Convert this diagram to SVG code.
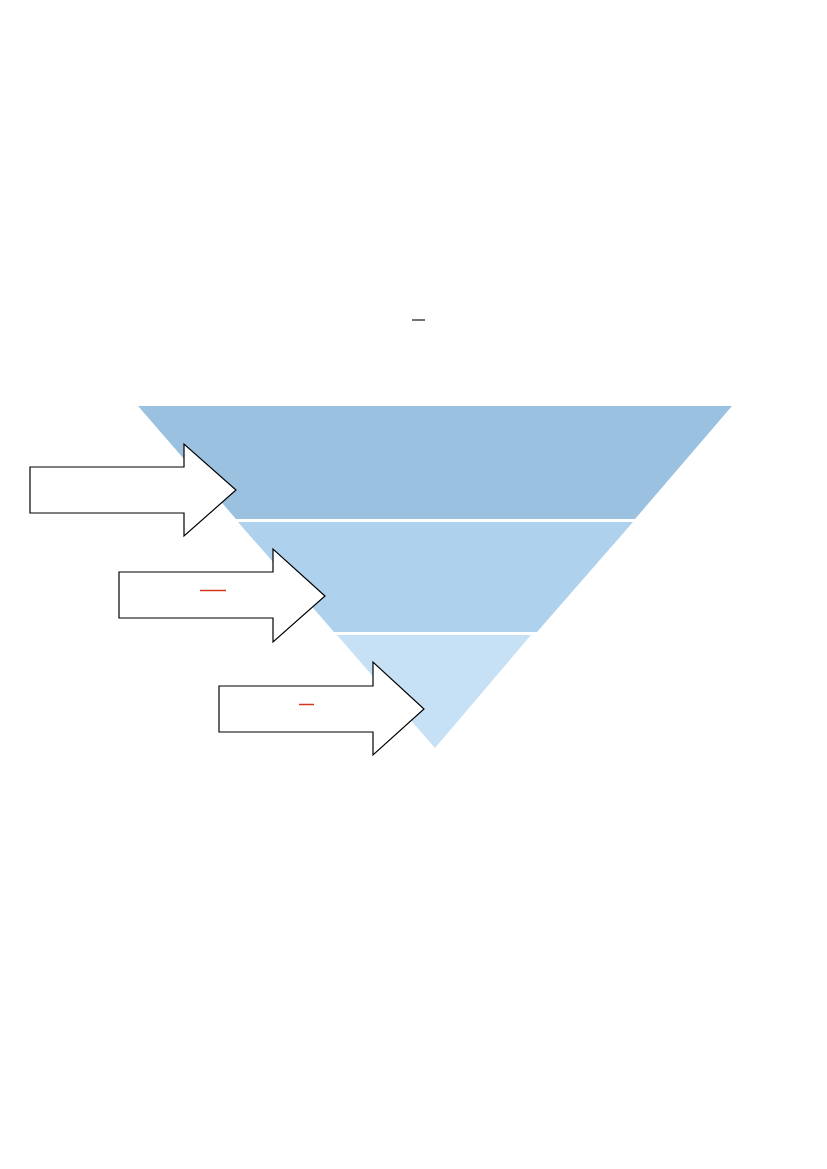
<svg xmlns="http://www.w3.org/2000/svg" width="827" height="1169" viewBox="0 0 827 1169">
<style>
.arrow{fill:#ffffff;stroke:#000000;stroke-width:1.2;stroke-linejoin:miter}
.dash{stroke-width:1.5}
</style>
<rect x="0" y="0" width="827" height="1169" fill="#ffffff"/>
<g id="funnel">
<polygon id="band1" points="138,406 732,406 635,519 236,519" fill="#9AC1E0"/>
<polygon id="band2" points="238,522 633,522 537,632 334,632" fill="#AED1ED"/>
<polygon id="band3" points="337,635 531,635 435,748" fill="#C6E0F6"/>
</g>
<g id="title-mark">
<line class="dash" x1="412" y1="320" x2="425" y2="320" stroke="#444444"/>
</g>
<g id="connectors">
<g id="arrow1">
<polygon class="arrow" points="30,467 184,467 184,444 236,490 184,536 184,513 30,513"/>
</g>
<g id="arrow2">
<polygon class="arrow" points="119,572 273,572 273,549 325,596 273,642 273,618 119,618"/>
<line class="dash" x1="200" y1="590.5" x2="226" y2="590.5" stroke="#D0391C"/>
</g>
<g id="arrow3">
<polygon class="arrow" points="219,686 373,686 373,662 424,709 373,755 373,732 219,732"/>
<line class="dash" x1="299" y1="704.5" x2="314" y2="704.5" stroke="#D0391C"/>
</g>
</g>
</svg>
